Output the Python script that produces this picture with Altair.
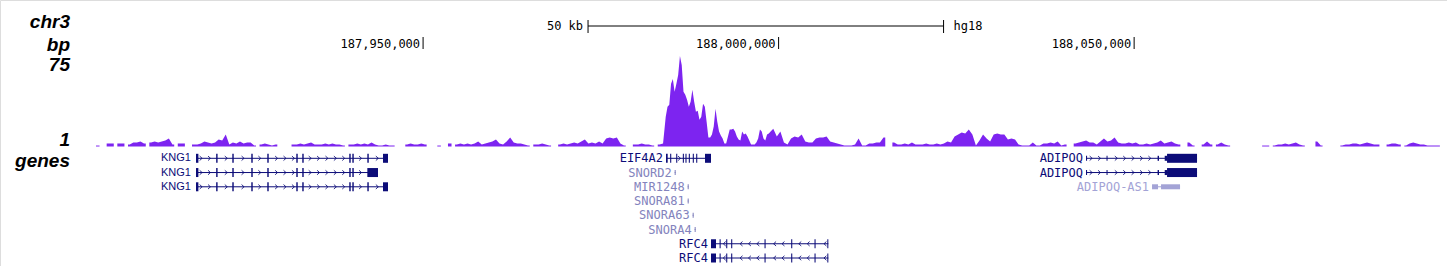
import altair as alt
import pandas as pd
import numpy as np

W, H = 1447, 266

# ---------------- data ----------------
VIEW = [187890500, 188094000]          # chr3 window shown
ruler_pos = [187950000, 188000000, 188050000]
ruler_lab = ["187,950,000", "188,000,000", "188,050,000"]
scalebar = [187973200, 188023200]
scalebar_label = "50 kb"
assembly = "hg18"
side_labels = ["chr3", "bp", "75", "1", "genes"]

# signal track, wiggle fixedStep blocks (value scale 0..75, 0 = no data)
sigA1_start, sigA1_step = 187904000, 500
sigA1 = [0.8, 0, 0, 2.5, 2.5, 0, 2.5, 2.5, 0, 1.6,
         3.3, 3.3, 4.1, 2.5, 0, 3.3, 4.1, 3.3, 4.1, 4.9,
         6.6, 1.6, 0, 2.5, 2.5, 0, 0, 1.6, 1.6, 2.5,
         4.1, 3.3, 2.5, 3.3, 5.8, 4.9, 9.9, 1.6, 3.3, 2.5,
         4.1, 2.5, 3.3, 3.3, 0.8, 0, 1.6, 2.5, 1.6, 0.8,
         1.6, 0, 0, 0, 0, 1.6, 1.6, 2.5, 1.6, 2.5,
         3.3, 1.6, 1.6, 1.6, 2.5, 1.6, 2.5, 1.6, 1.6, 0.8,
         0, 1.6, 1.6, 2.5, 1.6, 2.5, 1.6, 3.3, 1.6, 0.8,
         0.8, 1.6, 0.8, 0.8, 0, 0, 0, 1.6, 2.5, 1.6,
         1.6, 2.5, 1.6, 0, 0, 0, 0.8, 0, 0, 2.5,
         0, 1.6, 2.5, 1.6, 2.5, 1.6, 2.5, 4.1, 1.6, 2.5,
         3.3, 4.1, 5.8, 2.5, 1.6, 4.1, 7.4, 3.3, 2.5, 2.5,
         1.6, 0.8, 0, 1.6, 1.6, 2.5, 1.6, 0.8, 0, 0,
         1.6, 2.5, 1.6, 2.5, 3.3, 2.5, 4.1, 5.8, 2.5, 3.3,
         2.5, 4.1, 2.5, 6.6, 7.4, 6.6, 7.4, 2.5, 0.8, 0,
         0, 1.6, 1.6, 2.5, 1.6, 1.6, 0.8, 0, 1.6, 2.5]
sigB_start, sigB_step = 187984000, 250
sigB = [24.7, 33.0, 34.6, 51.9, 56.0, 45.3, 51.9, 59.3, 75.0, 67.6,
        45.3, 42.8, 38.7, 33.0, 37.1, 47.0, 37.1, 28.8, 29.7, 22.2,
        24.7, 35.4, 33.0, 20.6, 7.4, 7.4, 9.9, 16.5, 31.3, 20.6,
        12.4, 9.1, 6.6, 2.5, 2.5, 8.2, 14.0, 14.0, 14.8, 12.4,
        8.2, 5.8, 4.9, 12.4, 9.9, 10.7, 8.2, 4.9, 1.6, 1.6,
        1.6, 3.3, 6.6, 14.0, 12.4, 6.6, 4.9, 9.9, 10.7, 12.4]
sigA2_start, sigA2_step = 187999000, 500
sigA2 = [14.8, 8.2, 12.4, 3.3, 1.6, 6.6, 8.2, 7.4, 9.9, 4.1,
         3.3, 3.3, 6.6, 7.4, 7.4, 8.2, 4.1, 3.3, 2.5, 1.6,
         0.8, 0.8, 0.8, 1.6, 6.6, 0.8, 0.8, 2.5, 2.5, 3.3,
         3.3, 7.4, 0, 0, 3.3, 1.6, 1.6, 2.5, 1.6, 3.3,
         1.6, 1.6, 1.6, 2.5, 1.6, 1.6, 2.5, 1.6, 2.5, 4.1,
         3.3, 8.2, 9.9, 11.5, 10.7, 14.0, 9.9, 0.8, 4.9, 9.9,
         6.6, 4.1, 9.9, 10.7, 9.9, 9.9, 5.8, 6.6, 5.8, 1.6,
         0.8, 0.8, 0.8, 3.3, 0.8, 0.8, 2.5, 2.5, 3.3, 2.5,
         4.1, 0.8, 1.6, 0, 0, 2.5, 3.3, 4.1, 4.9, 3.3,
         3.3, 1.6, 4.1, 6.6, 4.1, 4.9, 7.4, 3.3, 2.5, 2.5,
         3.3, 2.5, 3.3, 1.6, 1.6, 2.5, 1.6, 2.5, 3.3, 4.9,
         2.5, 3.3, 4.1, 2.5, 1.6, 0, 0, 3.3, 0.8, 0,
         0, 1.6, 4.1, 1.6, 0, 1.6, 3.3, 1.6, 0.8, 0,
         0, 0, 0, 0, 0, 0, 0, 0, 0.8, 0.8,
         0, 0.8, 1.6, 1.6, 2.5, 1.6, 2.5, 3.3, 1.6, 0.8,
         0, 0, 0, 4.1, 0.8, 0, 0, 0, 0, 0,
         0.8, 1.6, 1.6, 2.5, 2.5, 1.6, 2.5, 3.3, 2.5, 1.6,
         1.6, 0, 0, 1.6, 2.5, 2.5, 1.6, 0, 0.8, 2.5,
         3.3, 2.5, 1.6, 1.6, 0.8, 0.8, 0.8, 0.8]

# gene track (UCSC genePred-like)
tx_name = ["KNG1", "KNG1", "KNG1", "EIF4A2", "SNORD2", "MIR1248", "SNORA81",
           "SNORA63", "SNORA4", "RFC4", "RFC4", "ADIPOQ", "ADIPOQ", "ADIPOQ-AS1"]
tx_row = [1, 2, 3, 1, 2, 3, 4, 5, 6, 7, 8, 1, 2, 3]
tx_strand = ["+", "+", "+", "+", "+", "+", "+", "+", "+", "-", "-", "+", "+", "-"]
tx_class = ["coding", "coding", "coding", "coding", "noncoding", "noncoding", "noncoding",
            "noncoding", "noncoding", "coding", "coding", "coding", "coding", "antisense"]
tx_start = [187918065, 187918065, 187918065, 187984166, 187985380, 187987210, 187987210,
            187987910, 187988190, 187990495, 187990495, 188043235, 188043235, 188052517]
tx_end = [187945068, 187943662, 187945068, 187990495, 187985530, 187987360, 187987360,
          187988060, 187988340, 188006992, 188006992, 188058846, 188058846, 188056455]
tx_thick_start = [187918065, 187918065, 187918065, 187984166, 0, 0, 0, 0, 0,
                  187990495, 187990495, 188054627, 188054627, 0]
tx_thick_end = [187945068, 187943662, 187945068, 187990495, 0, 0, 0, 0, 0,
                188006992, 188006992, 188058846, 188058846, 0]
kng1_s = [187918065, 187920900, 187923170, 187925840, 187928090, 187932170, 187933010,
          187939620, 187940050, 187942160, 187944365]
kng1_e = [187918400, 187921100, 187923370, 187926040, 187928290, 187932370, 187933210,
          187939820, 187940250, 187942360, 187945068]
kng1b_s = kng1_s[:9] + [187942160]
kng1b_e = kng1_e[:9] + [187943662]
eif_s = [187984166, 187984750, 187985600, 187986530, 187986900, 187987370, 187987930,
         187988410, 187989650]
eif_e = [187984400, 187984900, 187985750, 187986680, 187987050, 187987520, 187988080,
         187988560, 187990495]
rfc_s = [187990495, 187991700, 187992630, 187993330, 187998020, 188001770, 188005050, 188006850]
rfc_e = [187991198, 187991850, 187992780, 187993480, 187998170, 188001920, 188005200, 188006992]
adi_s = [188043235, 188046120, 188053300, 188054300]
adi_e = [188043380, 188046260, 188053500, 188058846]
tx_exon_starts = [kng1_s, kng1b_s, kng1_s, eif_s, [187985380], [187987210], [187987210],
                  [187987910], [187988190], rfc_s, rfc_s, adi_s, adi_s, [188052517, 188053783]]
tx_exon_ends = [kng1_e, kng1b_e, kng1_e, eif_e, [187985530], [187987360], [187987360],
                [187988060], [187988340], rfc_e, rfc_e, adi_e, adi_e, [188053361, 188056455]]

# ---------------- styling ----------------
PURPLE = "#7d24f0"
CLASS_COLOR = {"coding": "#0c0c78", "noncoding": "#8383bd", "antisense": "#a3a3d6"}
MONO = "DejaVu Sans Mono"
SANS = "Liberation Sans"

# ---------------- tables ----------------
bins = []
for st, step, vals in [(sigA1_start, sigA1_step, sigA1), (sigB_start, sigB_step, sigB),
                       (sigA2_start, sigA2_step, sigA2)]:
    for i, v in enumerate(vals):
        bins.append((st + i * step, st + (i + 1) * step, v))

# split covered runs into separate pieces (gaps = no data)
sig_rows, seg, prev_on = [], 0, False
for k, (s, e, v) in enumerate(bins):
    on = v > 0
    if on and not prev_on:
        seg += 1
        sig_rows.append((float(s), v, "s%d" % seg))
    if on:
        sig_rows.append(((s + e) / 2.0, v, "s%d" % seg))
        nxt_on = k + 1 < len(bins) and bins[k + 1][2] > 0
        if not nxt_on:
            sig_rows.append((float(e), v, "s%d" % seg))
    prev_on = on
sig_df = pd.DataFrame(sig_rows, columns=["pos", "val", "seg"])

tx_df = pd.DataFrame({"name": tx_name, "row": tx_row, "start": tx_start, "end": tx_end,
                      "strand": tx_strand,
                      "color": [CLASS_COLOR[c] for c in tx_class]})

thick, thin, chev = [], [], []
for i in range(len(tx_name)):
    col = CLASS_COLOR[tx_class[i]]
    ts, te = tx_thick_start[i], tx_thick_end[i]
    for s, e in zip(tx_exon_starts[i], tx_exon_ends[i]):
        if te > ts:
            a, b = max(s, ts), min(e, te)
            if b > a:
                thick.append((tx_row[i], a, b, col))
            if s < ts:
                thin.append((tx_row[i], s, min(e, ts), col))
            if e > te:
                thin.append((tx_row[i], max(s, te), e, col))
        else:
            thin.append((tx_row[i], s, e, col))
    # intron direction arrows
    for p in np.arange(tx_start[i] + 700, tx_end[i] - 300, 1180):
        inside = any(s - 250 <= p <= e + 250 for s, e in zip(tx_exon_starts[i], tx_exon_ends[i]))
        if not inside:
            chev.append((tx_row[i], float(p), tx_strand[i], col))

thick_df = pd.DataFrame(thick, columns=["row", "start", "end", "color"])
thin_df = pd.DataFrame(thin, columns=["row", "start", "end", "color"])
chev_df = pd.DataFrame(chev, columns=["row", "pos", "strand", "color"])
ruler_df = pd.DataFrame({"pos": ruler_pos, "label": ruler_lab})
bar_df = pd.DataFrame({"start": [scalebar[0]], "end": [scalebar[1]],
                       "label": [scalebar_label], "asm": [assembly]})
bar_ends_df = pd.DataFrame({"pos": scalebar})

# ---------------- scales ----------------
xs = alt.Scale(domain=VIEW, zero=False, nice=False)
sig_y = alt.Scale(domain=[0, 75], range=[146.5, 56], nice=False)
row_y = alt.Scale(domain=[1, 8], range=[158.3, 258], nice=False, zero=False)

def X(f):
    return alt.X(f, type="quantitative", scale=xs, axis=None)

def YR():
    return alt.Y("row:Q", scale=row_y, axis=None)

C = alt.Color("color:N", scale=None)

# ---------------- layers ----------------
ruler_text = alt.Chart(ruler_df).mark_text(align="right", baseline="alphabetic", dx=-3,
                                           font=MONO, fontSize=12, color="black").encode(
    x=X("pos"), y=alt.value(48), text="label:N")
ruler_tick = alt.Chart(ruler_df).mark_rule(color="black", strokeWidth=1).encode(
    x=X("pos"), y=alt.value(37), y2=alt.value(49))
bar_line = alt.Chart(bar_df).mark_rule(color="black", strokeWidth=1).encode(
    x=X("start"), x2="end:Q", y=alt.value(26))
bar_ends = alt.Chart(bar_ends_df).mark_rule(color="black", strokeWidth=1).encode(
    x=X("pos"), y=alt.value(20), y2=alt.value(33))
bar_lab = alt.Chart(bar_df).mark_text(align="right", baseline="middle", dx=-5, font=MONO,
                                      fontSize=12, color="black").encode(
    x=X("start"), y=alt.value(26), text="label:N")
asm_lab = alt.Chart(bar_df).mark_text(align="left", baseline="middle", dx=10, font=MONO,
                                      fontSize=12, color="black").encode(
    x=X("end"), y=alt.value(26), text="asm:N")

side_y = [28, 51, 71, 146, 167]
side_layers = []
for lab, yy in zip(side_labels, side_y):
    side_layers.append(
        alt.Chart(pd.DataFrame({"t": [lab]})).mark_text(
            align="right", baseline="alphabetic", font=SANS, fontSize=19,
            fontStyle="italic", fontWeight="bold", color="black").encode(
            x=alt.value(70), y=alt.value(yy), text="t:N"))

signal = alt.Chart(sig_df).mark_area(interpolate="linear", color=PURPLE).encode(
    x=X("pos"), y=alt.Y("val:Q", scale=sig_y, axis=None, stack=None),
    detail=alt.Detail("seg:N"))

intron = alt.Chart(tx_df).mark_rule(strokeWidth=1).encode(
    x=X("start"), x2="end:Q", y=YR(), color=C)
arrows = alt.Chart(chev_df).mark_point(filled=False, strokeWidth=1, size=20, opacity=0.85).encode(
    x=X("pos"), y=YR(), color=C,
    shape=alt.Shape("strand:N", scale=alt.Scale(domain=["+", "-"],
                    range=["M-0.6,-1L0.5,0L-0.6,1", "M0.6,-1L-0.5,0L0.6,1"]), legend=None))
exon_thin = alt.Chart(thin_df).mark_rule(strokeWidth=5).encode(
    x=X("start"), x2="end:Q", y=YR(), color=C)
exon_thick = alt.Chart(thick_df).mark_rule(strokeWidth=9).encode(
    x=X("start"), x2="end:Q", y=YR(), color=C)
lab_sans = alt.Chart(tx_df).transform_filter(alt.datum.name == "KNG1").mark_text(
    align="right", baseline="middle", dx=-5, font=SANS, fontSize=11).encode(
    x=X("start"), y=YR(), text="name:N", color=C)
lab_mono = alt.Chart(tx_df).transform_filter(alt.datum.name != "KNG1").mark_text(
    align="right", baseline="middle", dx=-3, font=MONO, fontSize=12).encode(
    x=X("start"), y=YR(), text="name:N", color=C)

chart = alt.layer(
    ruler_text, ruler_tick, bar_line, bar_ends, bar_lab, asm_lab, *side_layers,
    signal, intron, arrows, exon_thin, exon_thick, lab_sans, lab_mono
).resolve_scale(y="independent").properties(
    width=W, height=H, autosize=alt.AutoSizeParams(type="none"), padding=0
).configure_view(stroke=None).configure(background="white")

chart.save("out.html", embed_options={"renderer": "svg", "actions": False})
